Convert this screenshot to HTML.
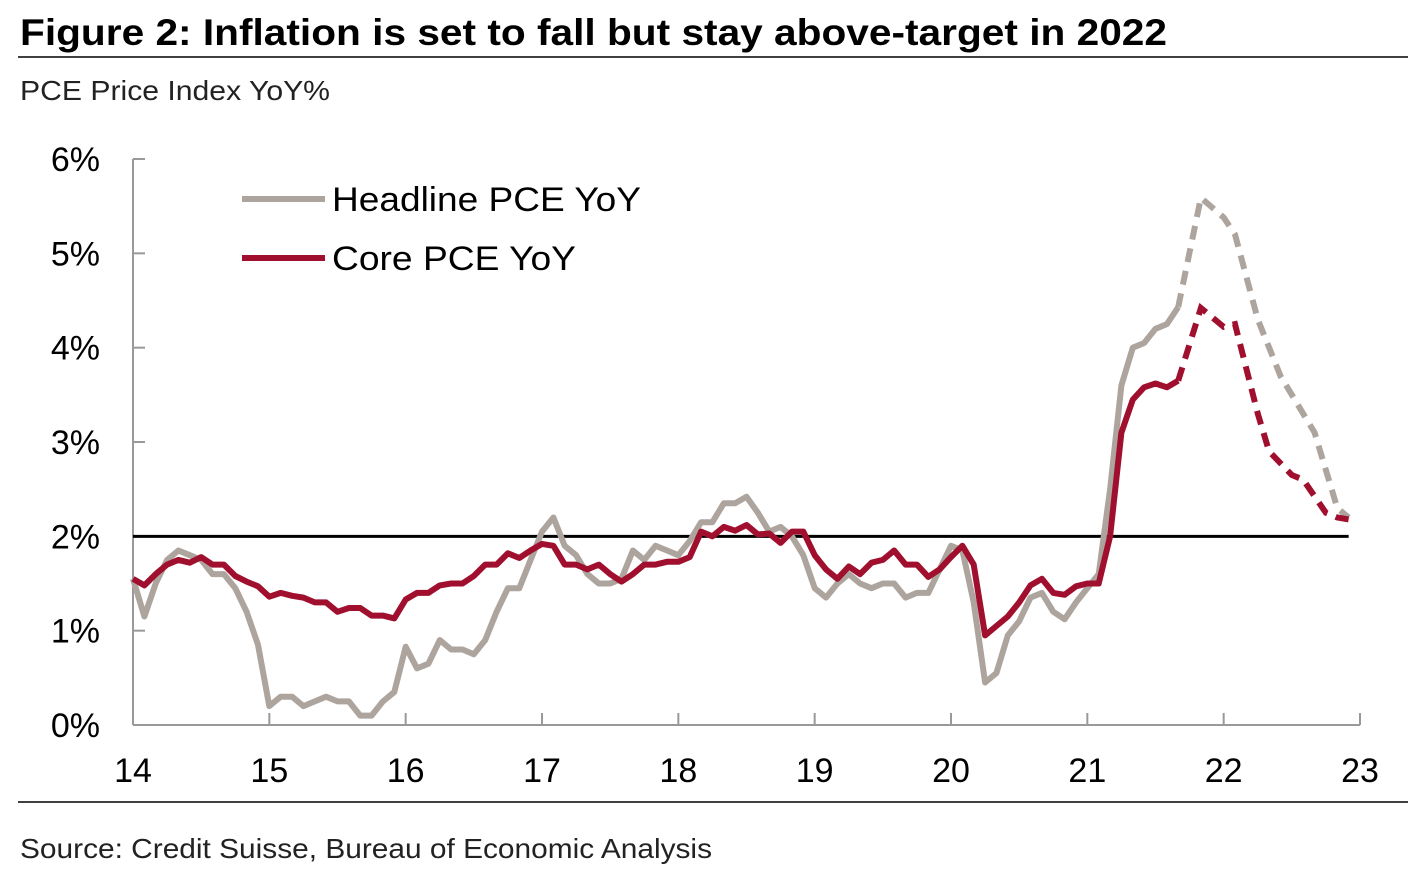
<!DOCTYPE html>
<html><head><meta charset="utf-8"><style>
body{margin:0;background:#fff;font-family:"Liberation Sans",Arial,sans-serif;}
svg{display:block}
</style></head><body>
<svg id="chart" width="1417" height="876">
<text x="20" y="45" font-size="37" font-weight="bold" fill="#000" textLength="1147" lengthAdjust="spacingAndGlyphs">Figure 2: Inflation is set to fall but stay above-target in 2022</text>
<line x1="18" y1="57" x2="1408" y2="57" stroke="#000" stroke-width="1.5"/>
<text x="20" y="100" font-size="28" fill="#222" textLength="310" lengthAdjust="spacingAndGlyphs">PCE Price Index YoY%</text>
<line x1="18" y1="802" x2="1408" y2="802" stroke="#000" stroke-width="1.5"/>
<text x="20" y="858" font-size="28" fill="#222" textLength="692" lengthAdjust="spacingAndGlyphs">Source: Credit Suisse, Bureau of Economic Analysis</text>
<g id="axes"></g>
<g id="marks"></g>
<g>
<line x1="242" y1="199" x2="325" y2="199" stroke="#ada49e" stroke-width="6"/>
<text x="332" y="211" font-size="34" fill="#000" textLength="309" lengthAdjust="spacingAndGlyphs">Headline PCE YoY</text>
<line x1="242" y1="258" x2="325" y2="258" stroke="#a0102e" stroke-width="6"/>
<text x="332" y="270" font-size="34" fill="#000" textLength="244" lengthAdjust="spacingAndGlyphs">Core PCE YoY</text>
</g>
</svg>
<script>
// Monthly actuals Jan 2014 .. Sep 2021
const headline = [1.55,1.15,1.5,1.75,1.85,1.8,1.75,1.6,1.6,1.45,1.2,0.85,
0.2,0.3,0.3,0.2,0.25,0.3,0.25,0.25,0.1,0.1,0.25,0.35,
0.83,0.6,0.65,0.9,0.8,0.8,0.75,0.9,1.2,1.45,1.45,1.75,
2.05,2.2,1.9,1.8,1.6,1.5,1.5,1.55,1.85,1.75,1.9,1.85,
1.8,1.95,2.15,2.15,2.35,2.35,2.42,2.25,2.05,2.1,2.0,1.8,
1.45,1.35,1.5,1.6,1.5,1.45,1.5,1.5,1.35,1.4,1.4,1.65,
1.9,1.85,1.3,0.45,0.55,0.95,1.1,1.35,1.4,1.2,1.12,1.3,
1.45,1.6,2.5,3.6,4.0,4.05,4.2,4.25,4.43];
const core = [1.55,1.48,1.6,1.7,1.75,1.72,1.78,1.7,1.7,1.58,1.52,1.47,
1.36,1.4,1.37,1.35,1.3,1.3,1.2,1.24,1.24,1.16,1.16,1.13,
1.33,1.4,1.4,1.48,1.5,1.5,1.58,1.7,1.7,1.82,1.77,1.85,
1.92,1.9,1.7,1.7,1.65,1.7,1.6,1.52,1.6,1.7,1.7,1.73,
1.73,1.78,2.05,2.0,2.1,2.06,2.12,2.02,2.03,1.93,2.05,2.05,
1.8,1.65,1.55,1.68,1.6,1.72,1.75,1.85,1.7,1.7,1.57,1.65,
1.78,1.9,1.7,0.95,1.05,1.15,1.3,1.48,1.55,1.4,1.38,1.47,
1.5,1.5,2.0,3.1,3.45,3.58,3.62,3.58,3.65];
// Forecasts: month index (0 = Jan 2014) and value
const fcMonths = [92,94,96,97,99,101,103,104,106,107];
const fcHeadline = [4.43,5.59,5.38,5.2,4.3,3.7,3.3,3.1,2.3,2.2];
const fcCoreMonths = [92,94,96,97,99,100,102,103,105,106,107];
const fcCore = [3.65,4.42,4.22,4.25,3.3,2.9,2.65,2.6,2.25,2.2,2.18];
const yTicks = [0,1,2,3,4,5,6];
const xTickLabels = ['14','15','16','17','18','19','20','21','22','23'];
const target = 2;

const NS='http://www.w3.org/2000/svg';
const X0=133,X1=1360,Y0=725,Y6=159;
const xScale=m=>X0+m*(X1-X0)/108;
const yScale=v=>Y0-v*(Y0-Y6)/6;
const axes=document.getElementById('axes'), marks=document.getElementById('marks');
function mk(tag,attrs,parent){const e=document.createElementNS(NS,tag);for(const k in attrs)e.setAttribute(k,attrs[k]);parent.appendChild(e);return e;}

let a=mk('line',{x1:X0,y1:Y6,x2:X0,y2:Y0,stroke:'#999','stroke-width':2},axes);


a=mk('line',{x1:X0,y1:Y0,x2:X1,y2:Y0,stroke:'#999','stroke-width':2},axes);


yTicks.forEach(v=>{
  const t=mk('line',{x1:X0,y1:yScale(v),x2:X0+12,y2:yScale(v),stroke:'#999','stroke-width':2},axes);
  
  
  const l=mk('text',{x:100,y:yScale(v)+12,'text-anchor':'end','font-size':34,fill:'#000'},axes);
  l.textContent=v+'%';
  
  
});
xTickLabels.forEach((s,i)=>{
  const x=xScale(i*12);
  const t=mk('line',{x1:x,y1:Y0,x2:x,y2:Y0-12,stroke:'#999','stroke-width':2},axes);
  
  
  const l=mk('text',{x:x,y:782,'text-anchor':'middle','font-size':34,fill:'#000'},axes);
  l.textContent=s;
  
  
});
const tl=mk('line',{x1:X0,y1:yScale(target),x2:xScale(107),y2:yScale(target),stroke:'#000','stroke-width':3},marks);



function path(ms,vs){return ms.map((m,i)=>(i?'L':'M')+xScale(m).toFixed(1)+','+yScale(vs[i]).toFixed(1)).join(' ');}
const idx=headline.map((_,i)=>i);
let p=mk('path',{d:path(fcMonths,fcHeadline),fill:'none',stroke:'#ada49e','stroke-width':6,'stroke-dasharray':'14 9'},marks);


p=mk('path',{d:path(idx,headline),fill:'none',stroke:'#ada49e','stroke-width':6,'stroke-linejoin':'round'},marks);


p=mk('path',{d:path(fcCoreMonths,fcCore),fill:'none',stroke:'#a0102e','stroke-width':6,'stroke-dasharray':'14 9'},marks);


p=mk('path',{d:path(core.map((_,i)=>i),core),fill:'none',stroke:'#a0102e','stroke-width':6,'stroke-linejoin':'round'},marks);


</script>
</body></html>
